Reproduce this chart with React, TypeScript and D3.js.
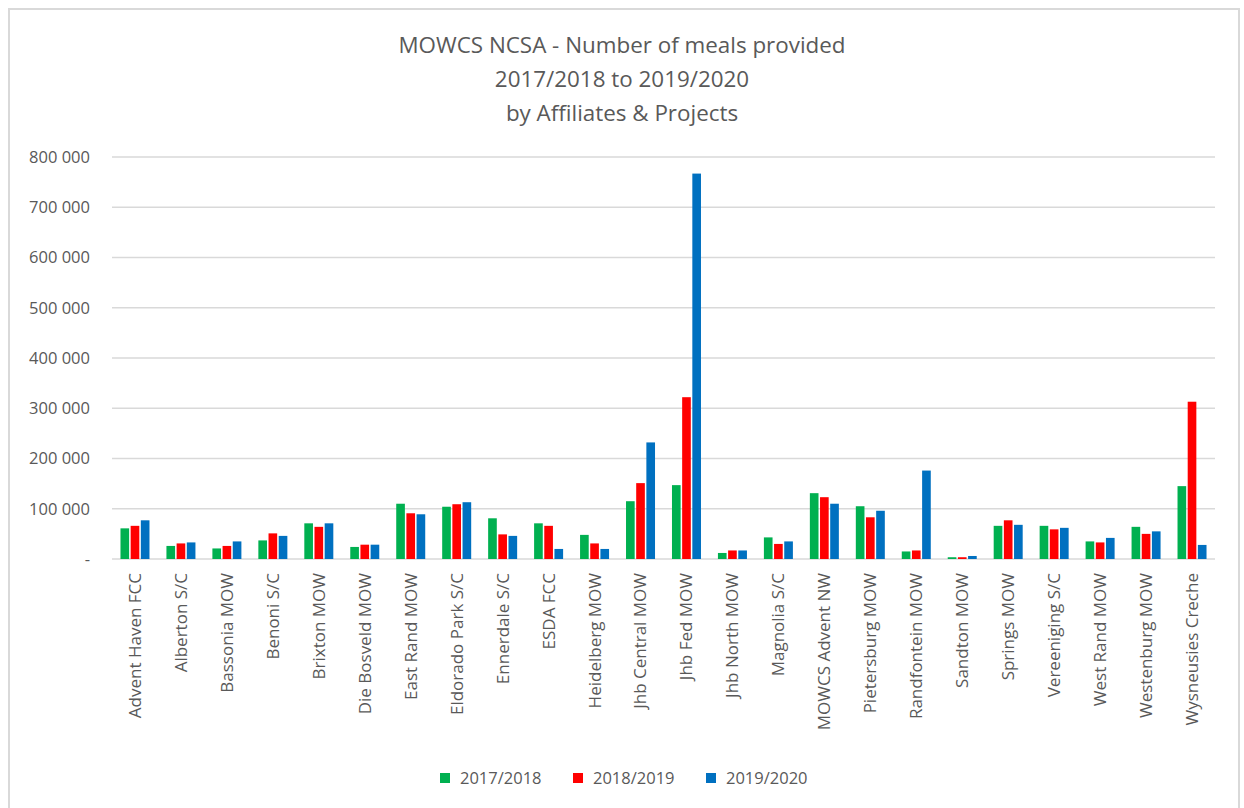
import * as d3 from "d3";

const categories = [
  "Advent Haven FCC", "Alberton S/C", "Bassonia MOW", "Benoni S/C", "Brixton MOW",
  "Die Bosveld MOW", "East Rand MOW", "Eldorado Park S/C", "Ennerdale S/C", "ESDA FCC",
  "Heidelberg MOW", "Jhb Central MOW", "Jhb Fed MOW", "Jhb North MOW", "Magnolia S/C",
  "MOWCS Advent NW", "Pietersburg MOW", "Randfontein MOW", "Sandton MOW", "Springs MOW",
  "Vereeniging S/C", "West Rand MOW", "Westenburg MOW", "Wysneusies Creche",
];

const seriesNames = ["2017/2018", "2018/2019", "2019/2020"];
const seriesColors = ["#00B050", "#FF0000", "#0070C0"];

const v2017 = [61000, 26000, 21000, 37000, 71000, 24000, 110000, 104000, 81000, 71000, 48000, 115000,
  147000, 12000, 43000, 131000, 105000, 15000, 3500, 66000, 66000, 35000, 64000, 145000];
const v2018 = [66000, 31000, 26000, 51000, 64000, 28500, 91000, 109000, 49000, 66000, 31000, 151000,
  322000, 17000, 30000, 123000, 83000, 17000, 3500, 77000, 59000, 33000, 50000, 313000];
const v2019 = [77000, 33000, 35000, 46000, 71000, 28500, 89000, 113000, 46000, 20000, 20000, 232000,
  767000, 17000, 35000, 110000, 96000, 176000, 6000, 68000, 62000, 42000, 55000, 28000];

const seriesValues = [v2017, v2018, v2019];
const yTicks = [0, 100000, 200000, 300000, 400000, 500000, 600000, 700000, 800000];

const W = 1244;
const H = 808;
const plotLeft = 112;
const plotRight = 1215;
const plotTop = 157;
const plotBottom = 559;
const font = "'Open Sans', 'Noto Sans', sans-serif";
const textColor = "#595959";

function fmt(v: number) {
  if (v === 0) return "-";
  return d3.format(",")(v).replace(/,/g, " ");
}

export default function App() {
  const x = d3.scaleBand<string>().domain(categories).range([plotLeft, plotRight]);
  const y = d3.scaleLinear().domain([0, 800000]).range([plotBottom, plotTop]);
  const inner = d3.scaleBand<string>().domain(seriesNames).range([-14.5, 14.5]).paddingInner(0.15);

  return (
    <svg
      width={W}
      height={H}
      style={{ position: "absolute", left: 0, top: 0, background: "#fff" }}
      fontFamily={font}
    >
      <rect x={9} y={9} width={1230} height={H + 10} fill="#fff" stroke="#d9d9d9" strokeWidth={2} />

      <g fill={textColor} fontSize={22.4} textAnchor="middle">
        <text x={622} y={53}>MOWCS NCSA - Number of meals provided</text>
        <text x={622} y={87}>2017/2018 to 2019/2020</text>
        <text x={622} y={121}>by Affiliates &amp; Projects</text>
      </g>

      {yTicks.map((t) => (
        <g key={t}>
          <line x1={plotLeft} x2={plotRight} y1={y(t)} y2={y(t)} stroke="#d9d9d9" strokeWidth={1.5} />
          <text x={90} y={y(t)} dy="0.35em" textAnchor="end" fontSize={16.5} fill={textColor}>
            {fmt(t)}
          </text>
        </g>
      ))}

      {categories.map((c, i) => {
        const cx = (x(c) ?? 0) + x.bandwidth() / 2;
        return (
          <g key={c}>
            {seriesNames.map((s, si) => {
              const v = seriesValues[si][i];
              return (
                <rect
                  key={s}
                  x={cx + (inner(s) ?? 0)}
                  y={y(v)}
                  width={inner.bandwidth()}
                  height={y(0) - y(v)}
                  fill={seriesColors[si]}
                />
              );
            })}
            <text
              transform={`translate(${cx},573) rotate(-90)`}
              dy="0.35em"
              textAnchor="end"
              fontSize={17}
              fill={textColor}
            >
              {c}
            </text>
          </g>
        );
      })}

      {seriesNames.map((s, si) => {
        const lx = [440, 573, 706][si];
        return (
          <g key={s} transform={`translate(${lx},778)`}>
            <rect x={0} y={-5} width={10} height={10} fill={seriesColors[si]} />
            <text x={20} y={0} dy="0.35em" fontSize={16.5} fill={textColor}>
              {s}
            </text>
          </g>
        );
      })}
    </svg>
  );
}
